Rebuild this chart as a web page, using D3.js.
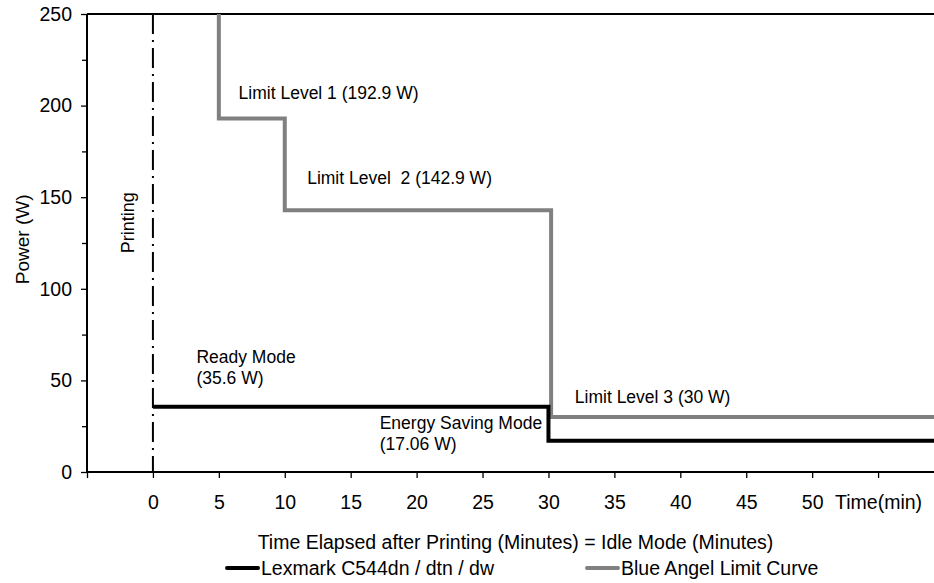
<!DOCTYPE html>
<html>
<head>
<meta charset="utf-8">
<script src="https://cdn.jsdelivr.net/npm/d3@7"></script>
<style>
  body { margin: 0; background: #fff; }
  text { font-family: "Liberation Sans", Arial, sans-serif; fill: #000; }
</style>
</head>
<body>
<div id="chart"></div>
<script>
// data
const lexmarkTime = [0, 30, 30, 60];
const lexmarkPower = [35.6, 35.6, 17.06, 17.06];
const limitTime = [5, 5, 10, 10, 30.2, 30.2, 60];
const limitPower = [250, 192.9, 192.9, 142.9, 142.9, 30, 30];
const xTicks = [-5, 0, 5, 10, 15, 20, 25, 30, 35, 40, 45, 50, 55];
const xTickLabels = ["", "0", "5", "10", "15", "20", "25", "30", "35", "40", "45", "50", "Time(min)"];
const yTicks = [0, 50, 100, 150, 200, 250];
const yMinorTicks = [25, 75, 125, 175, 225];
const seriesNames = ["Lexmark C544dn / dtn / dw", "Blue Angel Limit Curve"];
const seriesColors = ["#000000", "#808080"];
const annotations = [
  { x: 6.5, y: 203.6, lines: ["Limit Level 1 (192.9 W)"] },
  { x: 11.7, y: 157.2, lines: ["Limit Level  2 (142.9 W)"] },
  { x: 3.3, y: 59.5, lines: ["Ready Mode", "(35.6 W)"] },
  { x: 17.2, y: 23.5, lines: ["Energy Saving Mode", "(17.06 W)"] },
  { x: 32, y: 37.7, lines: ["Limit Level 3 (30 W)"] }
];

const W = 934, H = 583;
const margin = { top: 14, left: 87, bottom: 111 };
const svg = d3.select("#chart").append("svg")
  .attr("width", W).attr("height", H);

const x = d3.scaleLinear().domain([-5, 60]).range([margin.left, 944]);
const y = d3.scaleLinear().domain([0, 250]).range([H - margin.bottom, margin.top]);

// top border
svg.append("line")
  .attr("x1", x(-5)).attr("x2", x(60))
  .attr("y1", y(250)).attr("y2", y(250))
  .attr("stroke", "#000").attr("stroke-width", 2);

// printing marker
svg.append("line")
  .attr("x1", x(0)).attr("x2", x(0))
  .attr("y1", y(250)).attr("y2", y(0))
  .attr("stroke", "#000").attr("stroke-width", 2)
  .attr("stroke-dasharray", "20,6,2,6");

svg.append("text")
  .attr("transform", `translate(${x(0) - 19},${y(136)}) rotate(-90)`)
  .attr("text-anchor", "middle")
  .style("font-size", "18px")
  .text("Printing");

// lines
const line = d3.line().x((d) => x(d[0])).y((d) => y(d[1]));

svg.append("path")
  .datum(d3.zip(limitTime, limitPower))
  .attr("d", line)
  .attr("fill", "none")
  .attr("stroke", seriesColors[1])
  .attr("stroke-width", 4);

svg.append("path")
  .datum(d3.zip(lexmarkTime, lexmarkPower))
  .attr("d", line)
  .attr("fill", "none")
  .attr("stroke", seriesColors[0])
  .attr("stroke-width", 4);

// axes
const yAxis = svg.append("g")
  .attr("transform", `translate(${margin.left},0)`)
  .call(d3.axisLeft(y).tickValues(yTicks).tickSize(6).tickPadding(9));
svg.append("g")
  .attr("transform", `translate(${margin.left},0)`)
  .call(d3.axisLeft(y).tickValues(yMinorTicks).tickSize(5).tickFormat(""))
  .select(".domain").remove();

const xAxis = svg.append("g")
  .attr("transform", `translate(0,${y(0)})`)
  .call(d3.axisBottom(x).tickValues(xTicks).tickSize(6).tickPadding(17)
    .tickFormat((d, i) => xTickLabels[i]));

svg.selectAll(".domain").attr("stroke-width", 2).attr("stroke", "#000");
svg.selectAll(".tick line").attr("stroke", "#000").attr("stroke-width", 1.3);
svg.selectAll(".tick text").style("font-size", "19.5px").style("font-family", "Liberation Sans, Arial, sans-serif");
// axis path ends at right edge without end tick
xAxis.select(".domain").attr("d", `M${x(-5)},0H${x(60)}`);
yAxis.select(".domain").attr("d", `M0,${y(0)}V${y(250)}`);

// axis titles
svg.append("text")
  .attr("x", (x(-5) + x(60)) / 2)
  .attr("y", 549)
  .attr("text-anchor", "middle")
  .style("font-size", "19.5px")
  .text("Time Elapsed after Printing (Minutes) = Idle Mode (Minutes)");

svg.append("text")
  .attr("transform", `translate(29,${y(127)}) rotate(-90)`)
  .attr("text-anchor", "middle")
  .style("font-size", "19px")
  .text("Power (W)");

// annotations
annotations.forEach((a) => {
  const t = svg.append("text")
    .attr("x", x(a.x))
    .attr("y", y(a.y))
    .style("font-size", "17.5px")
    .attr("xml:space", "preserve")
    .style("white-space", "pre");
  a.lines.forEach((l, i) => {
    t.append("tspan")
      .attr("x", x(a.x))
      .attr("dy", i === 0 ? 0 : "1.2em")
      .text(l);
  });
});

// legend
const legendX = [227, 587];
seriesNames.forEach((name, i) => {
  const g = svg.append("g").attr("transform", `translate(${legendX[i]},568)`);
  g.append("line")
    .attr("x1", 0).attr("x2", 31)
    .attr("stroke", seriesColors[i]).attr("stroke-width", 4)
    .attr("stroke-linecap", "round");
  g.append("text")
    .attr("x", 34).attr("y", 7)
    .style("font-size", "19.5px")
    .text(name);
});
</script>
</body>
</html>
